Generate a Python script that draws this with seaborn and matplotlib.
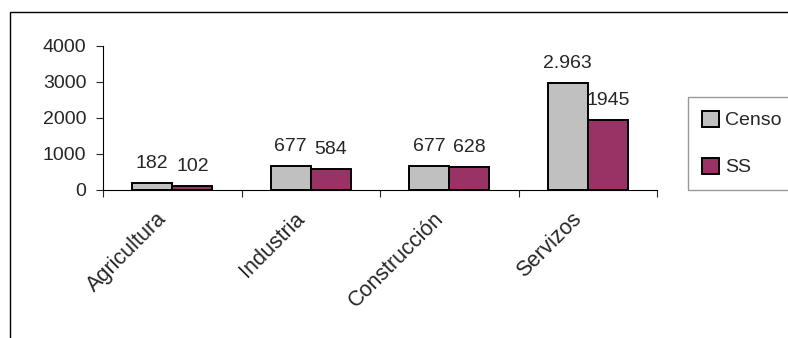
import matplotlib
matplotlib.use("Agg")
import matplotlib.pyplot as plt
import matplotlib.transforms as mtrans
from matplotlib.patches import Rectangle
from matplotlib.ticker import FixedLocator
import seaborn as sns
import pandas as pd

# datos
sectores = ['Agricultura', 'Industria', 'Construcción', 'Servizos']
censo = [182, 677, 677, 2963]
ss = [102, 584, 628, 1945]
etiquetas_censo = ['182', '677', '677', '2.963']
etiquetas_ss = ['102', '584', '628', '1945']

df = pd.DataFrame({
    'Sector': sectores * 2,
    'Valor': censo + ss,
    'Serie': ['Censo'] * 4 + ['SS'] * 4,
})

sns.set_style('white')
plt.rcParams['font.family'] = ['Liberation Sans', 'DejaVu Sans']
FS = 14

fig = plt.figure(figsize=(7.88, 3.38), dpi=100)
ax = fig.add_axes([103 / 788, 1 - 190 / 338, (657 - 103) / 788, (190 - 46) / 338])

sns.barplot(data=df, x='Sector', y='Valor', hue='Serie', order=sectores,
            palette=['#c0c0c0', '#993366'], saturation=1, width=0.58,
            edgecolor='black', linewidth=1.4, ax=ax)

# etiquetas de datos
for cont, labs in zip(ax.containers, [etiquetas_censo, etiquetas_ss]):
    ax.bar_label(cont, labels=labs, padding=8, fontsize=FS)

ax.set_ylim(0, 4000)
ax.set_xlim(-0.5, 3.5)
ax.set_yticks([0, 1000, 2000, 3000, 4000])
ax.tick_params(axis='y', which='major', length=5, width=0.8, direction='out',
               labelsize=FS, pad=7, left=True)
ax.tick_params(axis='x', which='major', length=0, labelsize=15.5, pad=10)
ax.xaxis.set_minor_locator(FixedLocator([-0.5, 0.5, 1.5, 2.5, 3.5]))
ax.tick_params(axis='x', which='minor', length=5, width=0.8, direction='out', bottom=True)
desplaza = mtrans.ScaledTranslation(-9 / 100, -12 / 100, fig.dpi_scale_trans)
for lab in ax.get_xticklabels():
    lab.set_rotation(45)
    lab.set_ha('right')
    lab.set_va('center')
    lab.set_rotation_mode('anchor')
    lab.set_transform(lab.get_transform() + desplaza)
ax.set_xlabel('')
ax.set_ylabel('')
for s in ['top', 'right']:
    ax.spines[s].set_visible(False)
for s in ['left', 'bottom']:
    ax.spines[s].set_color('black')
    ax.spines[s].set_linewidth(0.8)

leg = ax.legend(loc='upper left',
                bbox_to_anchor=(688 / 788, 1 - 190 / 338, 0.25, 93 / 338),
                bbox_transform=fig.transFigure, mode='expand', frameon=True,
                fancybox=False, fontsize=FS, handlelength=0.9, handleheight=0.9,
                handletextpad=0.3, labelspacing=1.45, borderpad=0.7,
                borderaxespad=0)
leg.get_frame().set_edgecolor('#808080')
leg.get_frame().set_linewidth(1.0)
for h in leg.legend_handles:
    h.set_edgecolor('black')
    h.set_linewidth(1.4)

# marco del grafico
fig.patches.append(Rectangle((10 / 788, -0.1), 1.0, 1 - 12 / 338 + 0.1,
                             transform=fig.transFigure, fill=False,
                             edgecolor='black', linewidth=1.0, clip_on=False))

fig.savefig('out.png', dpi=100)
